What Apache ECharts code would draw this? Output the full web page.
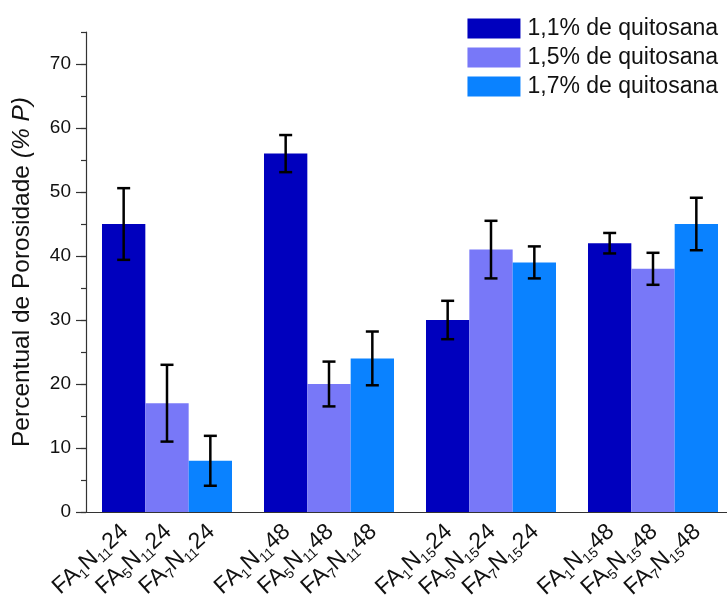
<!DOCTYPE html>
<html>
<head>
<meta charset="utf-8">
<script src="https://cdn.jsdelivr.net/npm/echarts@6/dist/echarts.min.js"></script>
<style>
html,body{margin:0;padding:0;background:#fff;}
#chart{width:727px;height:598px;}
</style>
</head>
<body>
<div id="chart"></div>
<script>
// ---- data ----
const groups = ['FAN11 24', 'FAN11 48', 'FAN15 24', 'FAN15 48'];
const seriesNames = ['1,1% de quitosana', '1,5% de quitosana', '1,7% de quitosana'];
const values11 = [45, 56, 30, 42];
const values15 = [17, 20, 41, 38];
const values17 = [8, 24, 39, 45];
const errors11 = [5.6, 2.9, 3.0, 1.6];
const errors15 = [6.0, 3.5, 4.5, 2.5];
const errors17 = [3.9, 4.2, 2.5, 4.1];
const labels11 = ['FA{s|1}N{s|11}24', 'FA{s|1}N{s|11}48', 'FA{s|1}N{s|15}24', 'FA{s|1}N{s|15}48'];
const labels15 = ['FA{s|5}N{s|11}24', 'FA{s|5}N{s|11}48', 'FA{s|5}N{s|15}24', 'FA{s|5}N{s|15}48'];
const labels17 = ['FA{s|7}N{s|11}24', 'FA{s|7}N{s|11}48', 'FA{s|7}N{s|15}24', 'FA{s|7}N{s|15}48'];
const yTickLabels = [0, 10, 20, 30, 40, 50, 60, 70];
const yMinorTicks = [0, 5, 10, 15, 20, 25, 30, 35, 40, 45, 50, 55, 60, 65, 70, 75];

const colors = ['#0000BE', '#7878F8', '#0A82FF'];
const FONT = '"Liberation Sans", Arial, sans-serif';
const GAP = 0.1975;

const allValues = [values11, values15, values17];
const allErrors = [errors11, errors15, errors17];
const allLabels = [labels11, labels15, labels17];

const barSeries = allValues.map((vals, i) => ({
  name: seriesNames[i],
  type: 'bar',
  xAxisIndex: 0,
  yAxisIndex: 0,
  data: vals,
  barGap: '0%',
  barCategoryGap: (GAP * 100) + '%',
  itemStyle: { color: colors[i] },
  label: {
    show: true,
    position: ['50%', '100%'],
    offset: [-10, 13],
    rotate: 42,
    align: 'right',
    verticalAlign: 'middle',
    formatter: (p) => allLabels[i][p.dataIndex],
    fontFamily: FONT,
    fontSize: 23,
    color: '#111',
    rich: {
      s: { fontSize: 14, fontFamily: FONT, color: '#111', padding: [14, 0, 0, 0] }
    }
  },
  z: 2
}));

const errSeries = allValues.map((vals, i) => ({
  name: 'err' + i,
  type: 'custom',
  xAxisIndex: 0,
  yAxisIndex: 0,
  data: vals.map((v, j) => [j, v - allErrors[i][j], v + allErrors[i][j]]),
  encode: { x: 0, y: [1, 2] },
  z: 5,
  renderItem: (params, api) => {
    const c = api.value(0);
    const lo = api.coord([c, api.value(1)]);
    const hi = api.coord([c, api.value(2)]);
    const band = api.size([1, 0])[0];
    const bw = band * (1 - GAP) / 3;
    const cx = lo[0] + (i - 1) * bw;
    const cap = 6.5;
    const st = { stroke: '#000', lineWidth: 2.5 };
    return {
      type: 'group',
      children: [
        { type: 'line', shape: { x1: cx, y1: lo[1], x2: cx, y2: hi[1] }, style: st },
        { type: 'line', shape: { x1: cx - cap, y1: lo[1], x2: cx + cap, y2: lo[1] }, style: st },
        { type: 'line', shape: { x1: cx - cap, y1: hi[1], x2: cx + cap, y2: hi[1] }, style: st }
      ]
    };
  }
}));

const chart = echarts.init(document.getElementById('chart'), null, { renderer: 'canvas' });
chart.setOption({
  backgroundColor: '#fff',
  animation: false,
  textStyle: { fontFamily: FONT },
  legend: {
    data: seriesNames,
    orient: 'vertical',
    right: 4,
    top: 12,
    icon: 'rect',
    itemWidth: 53,
    itemHeight: 20,
    itemGap: 6,
    textStyle: { fontFamily: FONT, fontSize: 23, color: '#111', padding: [0, 0, 0, 2] }
  },
  grid: { left: 86, width: 648, top: 32, bottom: 86, containLabel: false, outerBoundsMode: 'none' },
  xAxis: [{
    type: 'category',
    data: groups,
    axisLine: { show: true, lineStyle: { color: '#333', width: 1.2 } },
    axisTick: { show: false },
    axisLabel: { show: false },
    splitLine: { show: false }
  }],
  yAxis: [{
    type: 'value',
    min: 0,
    max: 75,
    interval: 10,
    position: 'left',
    name: 'Percentual de Porosidade {i|(% P)}',
    nameLocation: 'middle',
    nameGap: 51,
    nameTextStyle: {
      fontFamily: FONT, fontSize: 24.5, color: '#111',
      rich: { i: { fontFamily: FONT, fontSize: 24.5, fontStyle: 'italic', color: '#111' } }
    },
    axisLine: { show: true, lineStyle: { color: '#333', width: 1.2 } },
    axisTick: { show: true, length: 10, inside: false, customValues: yTickLabels, lineStyle: { color: '#333', width: 1.2 } },
    axisLabel: { show: true, customValues: yTickLabels, fontFamily: FONT, fontSize: 19, color: '#111', margin: 15 },
    splitLine: { show: false }
  }, {
    type: 'value',
    min: 0,
    max: 75,
    position: 'left',
    offset: 0,
    axisLine: { show: false },
    axisTick: { show: true, length: 5, customValues: yMinorTicks, lineStyle: { color: '#333', width: 1.2 } },
    axisLabel: { show: false },
    splitLine: { show: false }
  }],
  series: barSeries.concat(errSeries)
});
</script>
</body>
</html>
